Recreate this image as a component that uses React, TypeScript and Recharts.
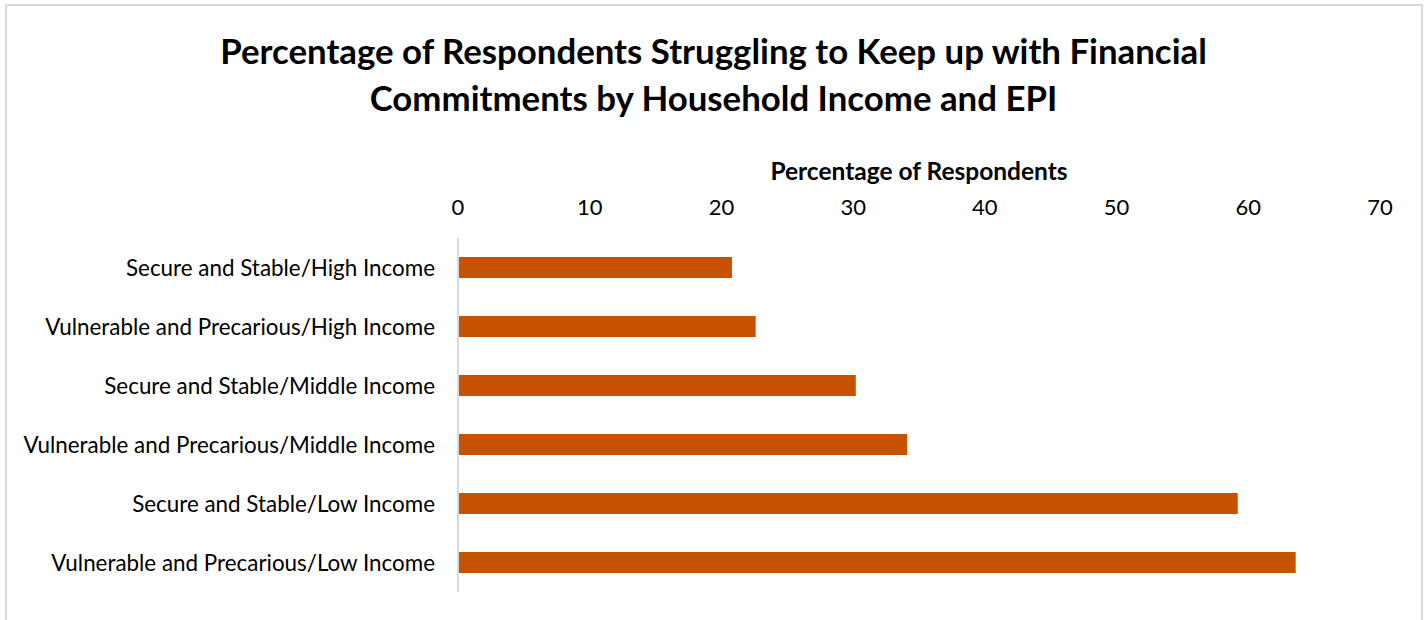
import { BarChart, Bar, XAxis, YAxis } from 'recharts'

const categories = [
  'Secure and Stable/High Income',
  'Vulnerable and Precarious/High Income',
  'Secure and Stable/Middle Income',
  'Vulnerable and Precarious/Middle Income',
  'Secure and Stable/Low Income',
  'Vulnerable and Precarious/Low Income',
]
const struggling = [20.8, 22.6, 30.2, 34.1, 59.2, 63.6]
const xTicks = [0, 10, 20, 30, 40, 50, 60, 70]

const chartData = categories.map((group, i) => ({ group, value: struggling[i] }))

const FONT = 'Lato, "Open Sans", sans-serif'

export default function App() {
  return (
    <div style={{ position: 'absolute', left: 0, top: 0, width: 1427, height: 620, overflow: 'hidden', background: '#fff', fontFamily: FONT }}>
      <div
        style={{
          position: 'absolute',
          left: 5,
          top: 4,
          width: 1414,
          height: 660,
          border: '2px solid #d9d9d9',
        }}
      />
      <div
        style={{
          position: 'absolute',
          left: 0,
          top: 27,
          width: 1427,
          textAlign: 'center',
          fontWeight: 700,
          fontSize: 34.8,
          lineHeight: '47px',
          color: '#000',
        }}
      >
        Percentage of Respondents Struggling to Keep up with Financial
        <br />
        Commitments by Household Income and EPI
      </div>
      <div style={{ position: 'absolute', left: 0, top: 0 }}>
        <BarChart
          width={1427}
          height={620}
          data={chartData}
          layout="vertical"
          margin={{ top: 186, right: 47, bottom: 28, left: 0 }}
          barSize={21}
        >
          <XAxis
            type="number"
            orientation="top"
            domain={[0, 70]}
            ticks={xTicks}
            height={52}
            axisLine={false}
            tickLine={false}
            tickSize={0}
            tickMargin={23}
            tick={{ fontSize: 22, fill: '#000', fontFamily: FONT }}
            label={{
              value: 'Percentage of Respondents',
              position: 'top',
              offset: 6,
              style: { fontSize: 24.5, fontWeight: 700, fill: '#000', fontFamily: FONT },
            }}
          />
          <YAxis
            type="category"
            dataKey="group"
            width={458}
            axisLine={{ stroke: '#d9d9d9', strokeWidth: 2 }}
            tickLine={false}
            tickSize={0}
            tickMargin={23}
            tick={{ fontSize: 22.4, fill: '#000', fontFamily: FONT, dy: 1 }}
          />
          <Bar dataKey="value" fill="#C65200" isAnimationActive={false} />
        </BarChart>
      </div>
    </div>
  )
}
